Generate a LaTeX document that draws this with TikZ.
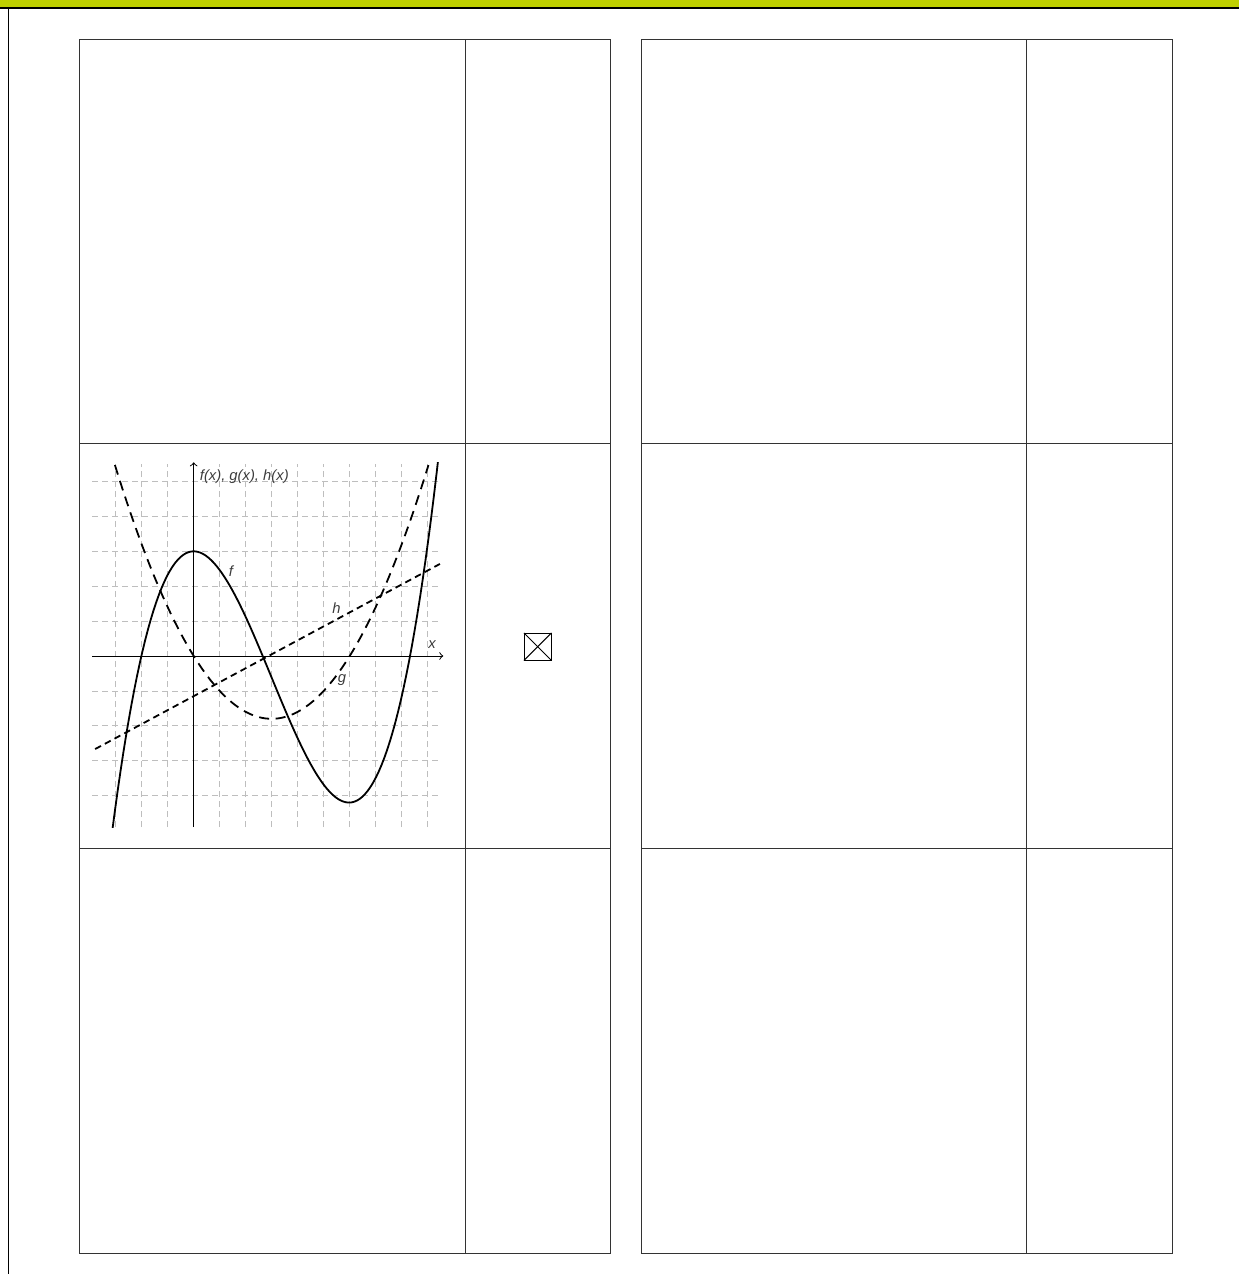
\documentclass[tikz,border=0pt]{standalone}
\usepackage{fontspec}
\setmainfont{Liberation Sans}
\usepackage{tikz}
\usetikzlibrary{arrows, positioning, calc}
\usepackage{xcolor}
\definecolor{headgreen}{RGB}{191, 208, 0}
\definecolor{framegray}{RGB}{51, 51, 51}
\definecolor{gridgray}{RGB}{190, 190, 190}
\definecolor{labelgray}{RGB}{60, 60, 60}
\tikzstyle{frame} = [line width=0.5pt, framegray]
\tikzstyle{gridline} = [line width=0.4pt, gridgray, dash pattern=on 2.8pt off 2.2pt]
\tikzstyle{axis} = [line width=0.5pt, black, ->, >=to]
\tikzstyle{curve} = [line width=0.9pt, black, line join=round]
\tikzstyle{lbl} = [inner sep=0pt, labelgray, font=\fontsize{7.4}{8}\selectfont\itshape]

\begin{document}
\begin{tikzpicture}[x=0.5pt, y=-0.5pt]
\useasboundingbox (0,0) rectangle (1239,1274);
% Header bar and left margin line
\fill[headgreen] (0,0) rectangle (1239,8);
\draw[line width=0.8pt, black] (0,8.2) -- (1239,8.2);
\draw[line width=0.7pt, black] (8.7,8) -- (8.7,1274);

% Left and right answer tables
\foreach \xa/\xb/\xc in {79/465/610, 641.5/1026.5/1172.5} {
    \draw[frame] (\xa,39) rectangle (\xc,1253);
    \draw[frame] (\xb,39) -- (\xb,1253);
    \draw[frame] (\xa,443.7) -- (\xc,443.7);
    \draw[frame] (\xa,848.7) -- (\xc,848.7);
}

% Ticked box
\node[draw, line width=0.5pt, minimum size=13.3pt, inner sep=0pt] (chk) at (537.7,646.7) {};
\draw[line width=0.5pt] (chk.north west) -- (chk.south east);
\draw[line width=0.5pt] (chk.north east) -- (chk.south west);

% Graph of f, g and h
\begin{scope}[shift={(193.7,656)}, x=13pt, y=17.45pt]
    \foreach \i in {-3,...,9} {
        \ifnum\i=0\else \draw[gridline] (\i,-4.9) -- (\i,5.5); \fi
    }
    \foreach \j in {-4,...,5} {
        \ifnum\j=0\else \draw[gridline] (-3.9,\j) -- (9.4,\j); \fi
    }
    \coordinate (xl) at (-3.9,0);
    \coordinate (xr) at (9.6,0);
    \coordinate (yb) at (0,-4.9);
    \coordinate (yt) at (0,5.55);
    \draw[axis] (xl) -- (xr);
    \draw[axis] (yb) -- (yt);
    \begin{scope}
        \clip (-3.9,-4.92) rectangle (9.6,5.55);
        \draw[curve, domain=-3.14:9.45, samples=120] plot (\x, {0.0675*\x*\x*\x - 0.605*\x*\x + 3});
        \draw[curve, dash pattern=on 5pt off 3.3pt, domain=-3.03:9.03, samples=80] plot (\x, {0.2*\x*\x - 1.2*\x});
        \draw[curve, dash pattern=on 3.3pt off 2.2pt, domain=-3.79:9.47] plot (\x, {0.4*\x - 1.15});
    \end{scope}
\end{scope}

% Labels
\node[lbl, anchor=west] (ylab) at (199.5,476.7) {f(x), g(x), h(x)};
\node[lbl] (xlab) at (432,645) {x};
\node[lbl] (flab) at (231,571) {f};
\node[lbl] (hlab) at (336.5,608) {h};
\node[lbl] (glab) at (342,680) {g};
\end{tikzpicture}
\end{document}
